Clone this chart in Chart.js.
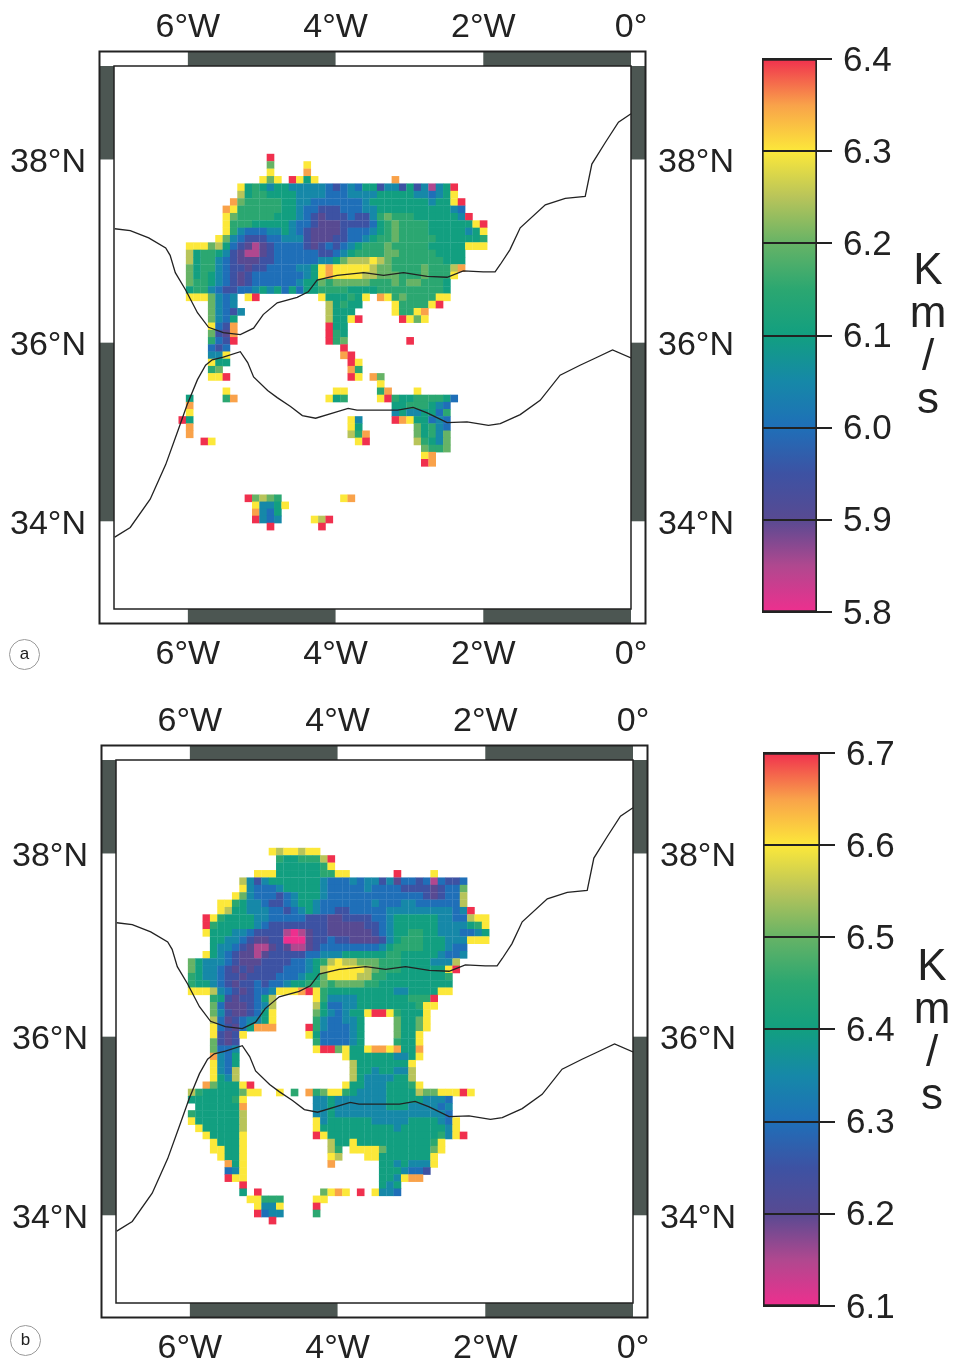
<!DOCTYPE html>
<html lang="en">
<head>
<meta charset="UTF-8">
<title>Km/s maps</title>
<script src="https://cdn.jsdelivr.net/npm/chart.js"></script>
<style>
    body { margin: 0; background: #fff; font-family: "Liberation Sans", sans-serif; color: #222; }
    .janela { position: relative; width: 956px; height: 1366px; overflow: hidden; }
    .janela canvas { position: absolute; }
    .units { position: absolute; width: 60px; text-align: center; font-size: 44px; line-height: 43px; }
    .letra { position: absolute; width: 29px; height: 29px; border: 1px solid #999; border-radius: 50%;
             text-align: center; font-size: 17px; line-height: 27px; }
</style>
</head>
<body>
<div class="janela">
    <canvas id="mapA" style="left:0;top:0"></canvas>
    <canvas id="barA" style="left:740px;top:30px"></canvas>
    <canvas id="mapB" style="left:2px;top:694px"></canvas>
    <canvas id="barB" style="left:741px;top:724px"></canvas>
    <div class="units" style="left:898px;top:247px">K<br>m<br>/<br>s</div>
    <div class="units" style="left:902px;top:943px">K<br>m<br>/<br>s</div>
    <div class="letra" style="left:9px;top:639px">a</div>
    <div class="letra" style="left:10px;top:1325px">b</div>
</div>

<script>
// ticks and frame bands
const lonTicks = [-6, -4, -2, 0]
const latTicks = [38, 36, 34]
const lonBands = [-7, -6, -4, -2, 0]
const latBands = [39, 38, 36, 34, 33]

// colour bars
const barATicks = [5.8, 5.9, 6.0, 6.1, 6.2, 6.3, 6.4]
const barBTicks = [6.1, 6.2, 6.3, 6.4, 6.5, 6.6, 6.7]
const velocityStep = 0.05
const velocityColors = ['#ee2f8e', '#b0488f', '#584a92', '#3d52a3', '#1f6fb8', '#1688a8', '#129f80',
    '#2ba771', '#66b366', '#b8c45a', '#fce83a', '#f9a24a', '#f0304e']

// coast lines
const spainLon = [-6.99, -6.78, -6.53, -6.30, -6.24, -6.17, -6.03, -5.87, -5.72, -5.52, -5.29, -5.11, -4.98, -4.79, -4.52, -4.37, -4.25, -3.98, -3.62, -3.35, -3.08, -2.76, -2.49, -2.27, -2.00, -1.84, -1.77, -1.64, -1.50, -1.16, -0.89, -0.62, -0.53, -0.35, -0.17, 0]
const spainLat = [37.25, 37.23, 37.15, 37.04, 36.96, 36.77, 36.58, 36.33, 36.17, 36.11, 36.09, 36.16, 36.31, 36.44, 36.50, 36.56, 36.69, 36.74, 36.77, 36.74, 36.77, 36.73, 36.72, 36.79, 36.78, 36.78, 36.86, 37.02, 37.26, 37.51, 37.58, 37.60, 37.95, 38.18, 38.40, 38.49]
const africaLon = [-6.99, -6.78, -6.51, -6.30, -6.13, -6.01, -5.87, -5.76, -5.67, -5.52, -5.29, -5.19, -5.11, -4.92, -4.79, -4.61, -4.45, -4.27, -4.03, -3.83, -3.71, -3.16, -2.95, -2.76, -2.49, -2.22, -1.93, -1.77, -1.50, -1.23, -0.96, -0.69, -0.48, -0.25, 0]
const africaLat = [33.82, 33.93, 34.25, 34.64, 35.03, 35.31, 35.59, 35.75, 35.81, 35.84, 35.90, 35.78, 35.62, 35.47, 35.39, 35.29, 35.19, 35.16, 35.22, 35.27, 35.25, 35.25, 35.28, 35.22, 35.11, 35.12, 35.08, 35.10, 35.20, 35.36, 35.64, 35.75, 35.83, 35.92, 35.83]

// velocity cells, one string per row going south, one char per column going east
// a = lowest value of the colour bar, each next letter is one velocityStep up, . = no data
// spaces only mark every 10 columns
const mapAMinimum = 5.8
const mapARows = [
    ". ..........  .m",
    ". ..........  .i....k",
    ". ..........  .k....l",
    ". ..........  kik.mkgk.. ........l",
    ". .......kgh gfggfffffe defeggdffd gdfbfgm",
    ". .......jgh hggggffffe eeffffgggg gffefgk",
    ". ......lihh hhhggffeee eeeefggggg gggfggkm",
    ". .....lkhhh hhhggfeedd deeeffgggg ggggggfe",
    ". .....kihhh hhgggfedcd ddeddfhihh hggggggfm",
    ". .....khhhg ggggfeedcc cddddeghih hhhggggggk m",
    ". .....khfee effgfedccc cdeeefghih hhhgggggfg k",
    ". ....kifedd deefffdccc ddeefghhih hhhhgggggg h",
    ". kkkijgedcb cdeeeedcde defghhhihh hhhgggggkk k",
    ". jghhgfdcbb cdeeeeeedd efghhhhiih hhhhgggg",
    ". jghhfedccc ddeeeeeeff gijjjkjihh hhhhhggg",
    ". ighhfeddcd deeeeffgkl kkkkkjiihh hhihhhjl",
    ". ighgfedcde eeeeeefgkl kkkkjjiiih hhihhhk",
    ". ihhgfedcde eeeeefggih iiiiihhhih iihhhg",
    ". ghhfeddeef gfgegegghh hhgggghhhh hhhhhg",
    ". kkkifef.km ........kg gghgk.lkhi hhhhkk",
    ". ...ifef... .........j ghgg....kh hhhkm",
    ". ...ifedf.. .........j ggg.....kh hkl",
    ". ...ifeg... .........j ggkm.....m kik",
    ". ...kedl... .........m gg",
    ". ...idcl... .........m hg",
    ". ...hedm... .........m hi........ m",
    ". ...ede.... .......... .m",
    ". ...ffk.... .......... .lm",
    ". ...kgg.... .......... ..mk",
    ". ...hi..... .......... ..lh",
    ". ...kkm.... .......... ..mk.li",
    ". .......... .......... ......k",
    ". .....k.... .......... kk....hl.. .k",
    ". g....hl... .........k gh....kmhg ghhhhge",
    ". l......... .......... ........gg hhhgfe",
    ". k......... .......... ........fg ffggeh",
    "mg ......... .......... ..kf....ml kggefe",
    ". l......... .......... ..kg...... .ighfe",
    ". l......... .......... ..jhl..... .ighfi",
    ". ..mk...... .......... ...km..... .jhgfi",
    ". .......... .......... .......... ..ihhi",
    ". .......... .......... .......... ..kl",
    ". .......... .......... .......... ..ml",
    "", "", "", "",
    ". ........mi jih....... .kl",
    ". .........k ffgk",
    ". .........l feg",
    ". .........m fef....kjm",
    ". .......... .m......m"
]

const mapBMinimum = 6.1
const mapBRows = [
    ". .......... .kjkkjkk",
    ". .......... ..hgghhhjm",
    ". .......... ..gggggghk",
    ". .........k kkgggggghh kk......m. ...k",
    ". .......jfd fgggggggfe eefeffdfce edebedde",
    ". .......kfe eefgggggfe eeeefeeeed dddcdeei",
    ". ......kife eedefgggfe eeeeeeeeee eedcdeej",
    ". ....kkhgff eddefggfee eeeeefeeef feeeeeej",
    ". ....kjggff feedefgfee ddeeeeefff ffffffef m",
    ". ..mkhggggf feeeeedddc cddddeefgg ggggffee jkk",
    ". ..mhgggggf eddddddddc ccccddefgg ggggffff ghk",
    ". ..kgggffed dddbabcddc cccccdefgg hhggfffe efg",
    ". ...ggffedc cddaaacdde ddccccdfgh hhgggfff kkk",
    ". ...gffedcb bcdcbbcdee eeeeeefghh hhgggfee",
    ". ..kgfedccb cdddddeeff fgggggghhg ggggfeef",
    ". igfffedccc ddddeefghj kjjiiihhhg gggfffj",
    ". igffedcdcd dddeeefgjk kkkkjihhhg gggggkm",
    ". hgffeddcdd ddeeefggik kkkjjhhggg gggggh",
    ". hggfedcdde deefgghhih iiiihhgggg gggggg",
    ". kkkjfedcde efkkklmkhg ggggggggff ggggkk",
    ". ...hgdcdde gj.....khf fffggggggg hhhm",
    ". ...iecccde fj.....jge effggggggg ghkk",
    ". ...ifdccde gk.....igf efggkmmkhg ggk",
    ". ...jecdeff gk.....hfe effg....ig gik",
    ". ...kedcegl ll....mhfe eefg....ig gik",
    ". ...kdcdk.. ......kgee eefg....ig gk",
    ". ...idcd... .......hee eefg....hg gk",
    ". ...ieef... .......kmm ikggkllklg gl",
    ". ...lfeg... .......... .kggggggff gk",
    ". ...kfeg... .......... ..jggggggg k",
    ". ...kfej... .......... ..jggfggff j",
    ". ...kgfj... .......... ..jgffffgg j",
    ". ..ligggkm. .......... .kggfffggg hk",
    ". jhgggggikk ..k.h.lhik khgffffggg gjiikkkmk",
    ". gggggghk.. .......ffg fffffffggg ggfffe",
    ". .ggggggl.. .......ffg fffffffggg ffffef",
    ". hggggggj.. .......ffg ffffffffff fffffe",
    ". kggggggj.. .......kfg gggggfffff ggggfek",
    ". .kgggggj.. .......kgg ggggggggfg gggggfk",
    ". ..kggggk.. .......mkg gggggggggg gggghfkm",
    ". ...kgggk.. .........j ggkggggggg ggghk",
    ". ...kkggk.. .........j h.kkkkiggg gggik",
    ". ....kggk.. .........k j...kkgggg gggk",
    ". .....lgk.. .........l ......ggfg fffk",
    ". .....efk.. .......... ......gggf eed",
    ". .....mkk.. .......... ......ggfk ll",
    ". .......m.. .......... ......gfg",
    ". .......g.m ........ik lk.m.kffe",
    ". ........kk hhh....kk",
    ". .........k ffk....m",
    ". .........m eff....h",
    ". .......... .m"
]

// where the grid sits on the map, degrees
const gridLonStart = -6.075
const gridLonStep = 0.0995
const gridLatStart = 38.02
const gridLatStep = 0.08

// mercator latitude axis, the frame bands are not evenly spaced without it
function merc(lat) {
    return Math.log(Math.tan(Math.PI / 4 + lat * Math.PI / 360))
}
class MercatorScale extends Chart.LinearScale {
    getPixelForValue(value) {
        return this.getPixelForDecimal((merc(value) - merc(this.min)) / (merc(this.max) - merc(this.min)))
    }
}
MercatorScale.id = 'mercator'
MercatorScale.defaults = {}
Chart.register(MercatorScale)

function colorForVelocity(v, minimum) {
    return velocityColors[Math.round((v - minimum) / velocityStep)]
}

function rowsToCells(rows, minimum) {
    var cells = []
    rows.forEach((row, r) => {
        var chars = row.replace(/ /g, '')
        for (var c = 0; c < chars.length; c++) {
            if (chars[c] == '.') continue
            cells.push({
                x: gridLonStart + gridLonStep * c,
                y: gridLatStart - gridLatStep * r,
                v: minimum + velocityStep * (chars.charCodeAt(c) - 97)
            })
        }
    })
    return cells
}

function toPoints(lons, lats) {
    return lons.map((lon, i) => ({ x: lon, y: lats[i] }))
}

// the black and grey band around each map
const mapFrame = {
    id: 'mapFrame',
    afterDraw(chart) {
        const ctx = chart.ctx, a = chart.chartArea
        const x = chart.scales.x, y = chart.scales.y
        const band = 14.5
        const dark = '#4c5652'
        ctx.save()
        ctx.fillStyle = dark
        for (var i = 1; i < lonBands.length; i += 2) {
            var x0 = x.getPixelForValue(lonBands[i]), x1 = x.getPixelForValue(lonBands[i + 1])
            ctx.fillRect(x0, a.top - band, x1 - x0, band)
            ctx.fillRect(x0, a.bottom, x1 - x0, band)
        }
        for (var j = 0; j < latBands.length; j += 2) {
            var y0 = y.getPixelForValue(latBands[j]), y1 = y.getPixelForValue(latBands[j + 1])
            ctx.fillRect(a.left - band, y0, band, y1 - y0)
            ctx.fillRect(a.right, y0, band, y1 - y0)
        }
        ctx.strokeStyle = '#222'
        ctx.lineWidth = 2
        ctx.strokeRect(a.left - band, a.top - band, a.right - a.left + 2 * band, a.bottom - a.top + 2 * band)
        ctx.lineWidth = 1.5
        ctx.strokeRect(a.left, a.top, a.right - a.left, a.bottom - a.top)
        ctx.restore()
    }
}

const labelFont = { family: '"Liberation Sans"', size: 34 }
const barFont = { family: '"Liberation Sans"', size: 35 }

function mapAxis(type, position, min, max, ticks, format, padding, fixedSize) {
    return {
        type: type,
        position: position,
        min: min,
        max: max,
        grid: { display: false, drawTicks: false },
        border: { display: false },
        ticks: {
            color: '#222', font: labelFont, padding: padding, maxRotation: 0, autoSkip: false, callback: format,
            labelOffset: type == 'mercator' ? 3 : 0
        },
        afterBuildTicks(scale) { scale.ticks = ticks.map(v => ({ value: v })) },
        afterFit(scale) {
            if (scale.isHorizontal()) scale.height = fixedSize
            else scale.width = fixedSize
            scale.paddingLeft = scale.paddingRight = scale.paddingTop = scale.paddingBottom = 0
        }
    }
}

function lonLabel(v) { return v == 0 ? '0°' : Math.abs(v) + '°W' }
function latLabel(v) { return v + '°N' }

function gerarMapa(id, rows, minimum) {
    const canvas = document.getElementById(id)
    canvas.width = 750
    canvas.height = 672
    return new Chart(canvas, {
        type: 'scatter',
        data: {
            datasets: [
                { data: toPoints(spainLon, spainLat), showLine: true, borderColor: '#222', borderWidth: 1.3, pointRadius: 0, order: 0, xAxisID: 'x', yAxisID: 'y' },
                { data: toPoints(africaLon, africaLat), showLine: true, borderColor: '#222', borderWidth: 1.3, pointRadius: 0, order: 0, xAxisID: 'x', yAxisID: 'y' },
                {
                    data: rowsToCells(rows, minimum),
                    order: 1,
                    pointStyle: 'rect',
                    pointRadius: 5.4,
                    pointBorderWidth: 0,
                    backgroundColor: ctx => colorForVelocity(ctx.raw.v, minimum),
                    xAxisID: 'x',
                    yAxisID: 'y'
                }
            ]
        },
        options: {
            responsive: false,
            animation: false,
            events: [],
            layout: { padding: 0 },
            plugins: { legend: { display: false }, tooltip: { enabled: false } },
            scales: {
                x: mapAxis('linear', 'bottom', -7, 0, lonTicks, lonLabel, 25, 63),
                xTop: mapAxis('linear', 'top', -7, 0, lonTicks, lonLabel, 18, 66),
                y: mapAxis('mercator', 'left', 33, 39, latTicks, latLabel, 28, 114),
                yRight: mapAxis('mercator', 'right', 33, 39, latTicks, latLabel, 27, 119)
            }
        },
        plugins: [mapFrame]
    })
}

function gerarBarra(id, ticks, barWidth) {
    const canvas = document.getElementById(id)
    canvas.width = 216
    canvas.height = 610
    const minimum = ticks[0], maximum = ticks[ticks.length - 1]
    return new Chart(canvas, {
        type: 'bar',
        data: {
            labels: [''],
            datasets: [{
                data: [[minimum, maximum]],
                barPercentage: 1,
                categoryPercentage: 1,
                borderColor: '#222',
                borderWidth: 2,
                borderSkipped: false,
                backgroundColor(ctx) {
                    if (!ctx.chart.chartArea) return velocityColors[6]
                    const y = ctx.chart.scales.y
                    const g = ctx.chart.ctx.createLinearGradient(0, y.getPixelForValue(minimum), 0, y.getPixelForValue(maximum))
                    velocityColors.forEach((c, i) => g.addColorStop(i / (velocityColors.length - 1), c))
                    return g
                }
            }]
        },
        options: {
            responsive: false,
            animation: false,
            events: [],
            layout: { padding: { left: 22, top: 29, bottom: 28, right: 0 } },
            plugins: { legend: { display: false }, tooltip: { enabled: false } },
            scales: {
                x: { display: false },
                y: {
                    position: 'right',
                    min: minimum,
                    max: maximum,
                    grid: { color: '#222', lineWidth: 2, tickLength: 15, z: 1 },
                    border: { display: false },
                    ticks: { color: '#222', font: barFont, padding: 11, autoSkip: false, labelOffset: 2, callback: v => v.toFixed(1) },
                    afterBuildTicks(scale) { scale.ticks = ticks.map(v => ({ value: v })) },
                    afterFit(scale) {
                        scale.width = 216 - 22 - barWidth
                        scale.paddingTop = scale.paddingBottom = 0
                    }
                }
            }
        }
    })
}

gerarMapa('mapA', mapARows, mapAMinimum)
gerarMapa('mapB', mapBRows, mapBMinimum)
gerarBarra('barA', barATicks, 55)
gerarBarra('barB', barBTicks, 57)
</script>
</body>
</html>
